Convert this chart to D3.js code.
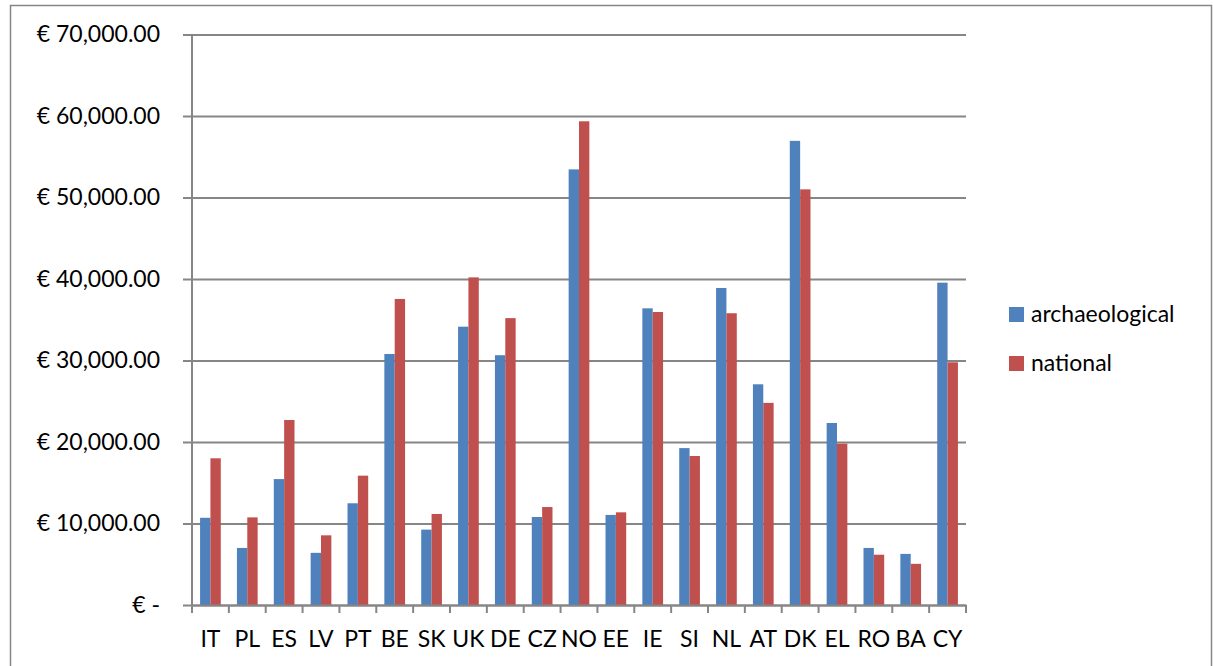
<html>
  <head>
    <style>
      body { margin: 0; background: #fff; }
      text { font-family: Lato, "Open Sans", sans-serif; fill: #000; }
    </style>
  </head>
  <body>
    <script src="https://d3js.org/d3.v7.min.js"></script>
    <script>
      // DATA
      const countries = ["IT", "PL", "ES", "LV", "PT", "BE", "SK", "UK", "DE", "CZ", "NO",
        "EE", "IE", "SI", "NL", "AT", "DK", "EL", "RO", "BA", "CY"];
      const archaeological = [10700, 7000, 15450, 6400, 12480, 30800, 9250, 34150, 30650, 10800, 53450,
        11050, 36400, 19250, 38900, 27080, 56950, 22330, 7000, 6270, 39550];
      const national = [18000, 10750, 22700, 8550, 15870, 37550, 11170, 40200, 35200, 12020, 59350,
        11370, 35950, 18280, 35800, 24800, 51000, 19800, 6170, 5050, 29780];
      const seriesNames = ["archaeological", "national"];
      const seriesColors = ["#4f81bd", "#c0504d"];
      const yTicks = [0, 10000, 20000, 30000, 40000, 50000, 60000, 70000];

      const width = 1213, height = 666;
      const plot = { left: 192, right: 966, top: 34.5, bottom: 605 };
      const fontSize = "23px";

      const svg = d3.select("body").append("svg")
        .attr("width", width).attr("height", height);

      // outer chart border
      svg.append("rect")
        .attr("x", 10.5).attr("y", 5.5)
        .attr("width", 1201).attr("height", 680)
        .attr("fill", "none").attr("stroke", "#868686").attr("stroke-width", 1.5);

      const x = d3.scaleBand().domain(countries).range([plot.left, plot.right]).padding(0);
      const y = d3.scaleLinear().domain([0, 70000]).range([plot.bottom, plot.top]);
      const inner = d3.scaleBand().domain(seriesNames)
        .range([0, x.bandwidth()]).paddingOuter(0.78).paddingInner(0);

      const fmt = d => d === 0 ? "€ -" : "€ " + d3.format(",.2f")(d);

      // gridlines + y axis
      const yAxis = d3.axisLeft(y).tickValues(yTicks).tickFormat(fmt)
        .tickSize(-(plot.right - plot.left));
      const gy = svg.append("g").attr("transform", `translate(${plot.left},0)`).call(yAxis);
      gy.select(".domain").remove();
      gy.selectAll(".tick line").attr("stroke", "#868686").attr("stroke-width", 2)
        .attr("x1", -9);
      gy.selectAll(".tick text").style("font-size", fontSize).attr("x", -32);

      svg.append("line")
        .attr("x1", plot.left).attr("x2", plot.left)
        .attr("y1", plot.top).attr("y2", plot.bottom)
        .attr("stroke", "#868686").attr("stroke-width", 2);

      // bars
      const data = countries.map((c, i) => ({ c, vals: [archaeological[i], national[i]] }));
      const groups = svg.append("g").selectAll("g").data(data).enter().append("g")
        .attr("transform", d => `translate(${x(d.c)},0)`);
      groups.selectAll("rect")
        .data(d => d.vals.map((v, k) => ({ k, v })))
        .enter().append("rect")
        .attr("x", d => inner(seriesNames[d.k]))
        .attr("width", inner.bandwidth())
        .attr("y", d => y(d.v))
        .attr("height", d => y(0) - y(d.v))
        .attr("fill", d => seriesColors[d.k]);

      // x axis
      const xAxis = d3.axisBottom(x).tickSize(0).tickPadding(26);
      const gx = svg.append("g").attr("transform", `translate(0,${plot.bottom})`).call(xAxis);
      gx.select(".domain").attr("stroke", "#868686").attr("stroke-width", 2);
      gx.selectAll(".tick text").style("font-size", fontSize);
      svg.append("g").selectAll("line")
        .data(countries.map(c => x(c)).concat([plot.right]))
        .enter().append("line")
        .attr("x1", d => d).attr("x2", d => d)
        .attr("y1", plot.bottom).attr("y2", plot.bottom + 8)
        .attr("stroke", "#868686").attr("stroke-width", 2);

      // legend
      const legend = svg.append("g").attr("transform", "translate(1009,307)");
      seriesNames.forEach((name, i) => {
        const row = legend.append("g").attr("transform", `translate(0,${i * 49})`);
        row.append("rect").attr("width", 15).attr("height", 15).attr("fill", seriesColors[i]);
        row.append("text").attr("x", 22).attr("y", 15).style("font-size", fontSize).text(name);
      });
    </script>
  </body>
</html>
